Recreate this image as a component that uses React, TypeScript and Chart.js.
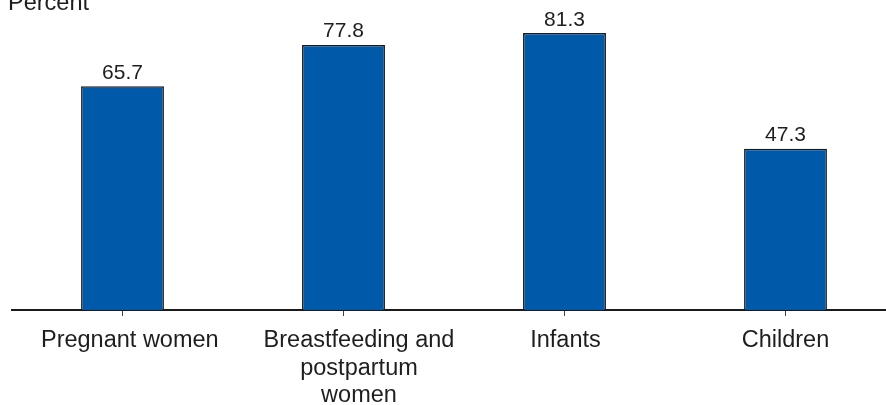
import React, { useEffect, useRef } from "react";
import { Chart, registerables } from "chart.js";

Chart.register(...registerables);

const categories: string[][] = [
  ["Pregnant women"],
  ["Breastfeeding and", "postpartum", "women"],
  ["Infants"],
  ["Children"],
];
const values: number[] = [65.7, 77.8, 81.3, 47.3];
const yAxisTitle = "Percent";

// horizontal nudges of category labels relative to their tick (style only)
const labelShift: number[] = [7.3, 15.5, 1, 0];

const FONT = '"Liberation Sans", Arial, Helvetica, sans-serif';
const TEXT = "#1e1e1e";

const labelPlugin = {
  id: "valueLabels",
  afterDatasetsDraw(chart: any) {
    const ctx = chart.ctx;
    const meta = chart.getDatasetMeta(0);
    ctx.save();
    ctx.fillStyle = TEXT;
    ctx.font = `21px ${FONT}`;
    ctx.textAlign = "center";
    ctx.textBaseline = "alphabetic";
    meta.data.forEach((bar: any, i: number) => {
      ctx.fillText(values[i].toFixed(1), bar.x, bar.y - 7.5);
    });
    ctx.font = `23.5px ${FONT}`;
    ctx.textAlign = "left";
    ctx.fillText(yAxisTitle, 8, 9.5);

    // category labels under the axis
    const xs = chart.scales.x;
    const base = xs.top + 37.3;
    ctx.textAlign = "center";
    categories.forEach((lines, i) => {
      const cx = xs.getPixelForValue(i) + labelShift[i];
      lines.forEach((line, k) => {
        ctx.fillText(line, cx, base + k * 27.3);
      });
    });
    ctx.restore();
  },
};

export default function App() {
  const ref = useRef<HTMLCanvasElement | null>(null);
  useEffect(() => {
    if (!ref.current) return;
    const chart = new Chart(ref.current, {
      type: "bar",
      data: {
        labels: categories.map((c) => c.join(" ")),
        datasets: [
          {
            data: values,
            backgroundColor: "#0059a9",
            borderColor: "#1a1a1a",
            borderWidth: 1.5,
            categoryPercentage: 1,
            barPercentage: 0.375,
          },
        ],
      },
      options: {
        animation: false,
        responsive: true,
        maintainAspectRatio: false,
        layout: { padding: { left: 12, right: 0, top: 0, bottom: 0 } },
        plugins: {
          legend: { display: false },
          tooltip: { enabled: false },
          title: { display: false },
        },
        scales: {
          x: {
            offset: true,
            afterFit(scale: any) {
              scale.height = 95;
            },
            border: { display: true, color: "#1a1a1a", width: 2 },
            grid: {
              offset: false,
              drawOnChartArea: false,
              drawTicks: true,
              tickLength: 6,
              color: "#444",
              lineWidth: 1,
            },
            ticks: {
              display: false,
              autoSkip: false,
              maxRotation: 0,
            },
          },
          y: {
            display: false,
            min: 0,
            max: 91,
          },
        },
      },
      plugins: [labelPlugin],
    });
    return () => chart.destroy();
  }, []);

  return (
    <div
      style={{
        position: "fixed",
        left: 0,
        top: 0,
        width: "100vw",
        height: "100vh",
        overflow: "hidden",
        background: "#fff",
      }}
    >
      <div style={{ position: "relative", width: 896, height: 405 }}>
        <canvas ref={ref} />
      </div>
    </div>
  );
}
